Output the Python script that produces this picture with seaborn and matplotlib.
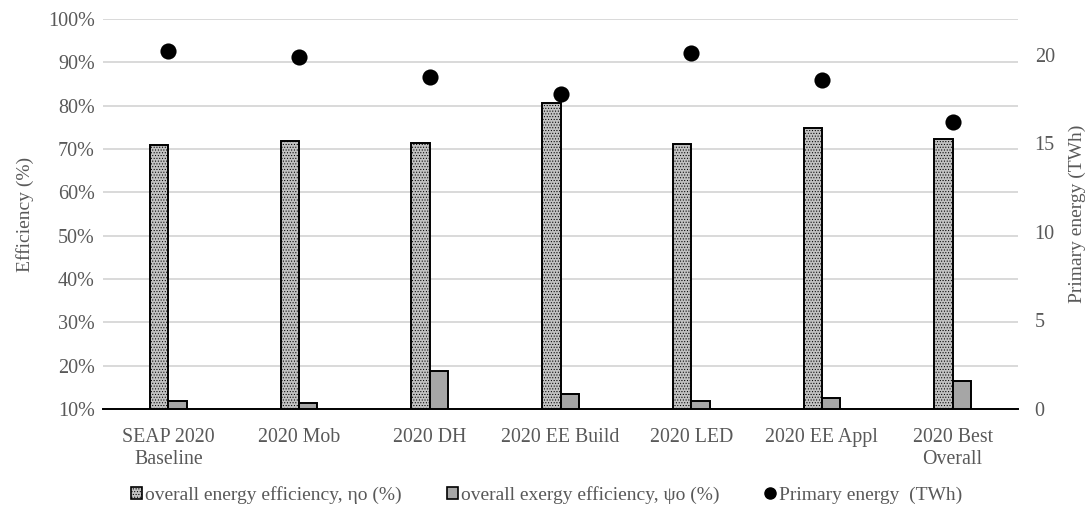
import numpy as np
import pandas as pd
import matplotlib
matplotlib.use("Agg")
import matplotlib.pyplot as plt
import seaborn as sns
from matplotlib.patches import Patch
from matplotlib.lines import Line2D

# =========================
# Data
# =========================
scenarios = ["SEAP 2020\nBaseline", "2020 Mob", "2020 DH", "2020 EE Build",
             "2020 LED", "2020 EE Appl", "2020 Best\nOverall"]
energy_eff = [70.9, 71.9, 71.4, 80.7, 71.2, 74.9, 72.2]   # %
exergy_eff = [11.9, 11.4, 18.7, 13.5, 11.8, 12.5, 16.4]   # %
primary_energy = [20.24, 19.87, 18.74, 17.8, 20.1, 18.6, 16.23]  # TWh

energy_label = "overall energy efficiency, ηo (%)"
exergy_label = "overall exergy efficiency, ψo (%)"
primary_label = "Primary energy  (TWh)"

df = pd.DataFrame({
    "Scenario": scenarios * 2,
    "Efficiency": energy_eff + exergy_eff,
    "Series": [energy_label] * len(scenarios) + [exergy_label] * len(scenarios),
})

# =========================
# Style
# =========================
sns.set_style("white")
plt.rcParams["font.family"] = ["Liberation Serif", "DejaVu Serif"]
plt.rcParams["hatch.linewidth"] = 0.45
text_col = "#595959"
energy_face = "#c2c2c2"

fig = plt.figure(figsize=(10.89, 5.18), dpi=100)
ax = fig.add_axes([0.0946, 0.2104, 0.8402, 0.7529])

sns.barplot(data=df, x="Scenario", y="Efficiency", hue="Series",
            palette=[energy_face, "#a6a6a6"], width=0.28,
            edgecolor="black", linewidth=1.4, ax=ax, legend=False)

# dotted fill for the energy efficiency bars
n = len(scenarios)
for bar in ax.patches[:n]:
    bar.set_hatch("......")

ax.set_ylim(10, 100)
ax.set_yticks(range(10, 101, 10))
ax.set_yticklabels([f"{t}%" for t in range(10, 101, 10)])
ax.set_xlim(-0.5, n - 0.5)
ax.yaxis.grid(True, color="#d9d9d9", linewidth=1.4)
ax.set_axisbelow(True)
for s in ["top", "right", "left"]:
    ax.spines[s].set_visible(False)
ax.spines["bottom"].set_color("black")
ax.spines["bottom"].set_linewidth(1.4)
ax.tick_params(axis="y", length=0, labelsize=14.5, colors=text_col, pad=6)
ax.tick_params(axis="x", length=0, labelsize=14.3, colors=text_col, pad=14)
ax.set_xlabel("")
ax.set_ylabel("Efficiency (%)", fontsize=14, color=text_col, labelpad=10)

# Secondary axis: primary energy
ax2 = ax.twinx()
sns.scatterplot(x=np.arange(n), y=primary_energy, ax=ax2, color="black",
                s=135, edgecolor="black", linewidth=0, zorder=5)
ax2.set_ylim(0, 22.03)
ax2.set_yticks([0, 5, 10, 15, 20])
for s in ["top", "right", "left", "bottom"]:
    ax2.spines[s].set_visible(False)
ax2.tick_params(axis="y", length=0, labelsize=14.5, colors=text_col, pad=12)
ax2.set_ylabel("Primary energy (TWh)", fontsize=14, color=text_col, labelpad=10)
ax2.grid(False)

# Legend
handles = [
    Patch(facecolor=energy_face, edgecolor="black", hatch="......", linewidth=1.2),
    Patch(facecolor="#a6a6a6", edgecolor="black", linewidth=1.2),
    Line2D([], [], marker="o", linestyle="", color="black", markersize=8),
]
leg = fig.legend(handles, [energy_label, exergy_label, primary_label],
                 loc="lower center", bbox_to_anchor=(0.502, -0.006), ncol=3,
                 frameon=False, fontsize=14, handlelength=0.55, handleheight=0.55,
                 handletextpad=0.2, columnspacing=2.3)
for t in leg.get_texts():
    t.set_color(text_col)

fig.savefig("out.png", dpi=100)
